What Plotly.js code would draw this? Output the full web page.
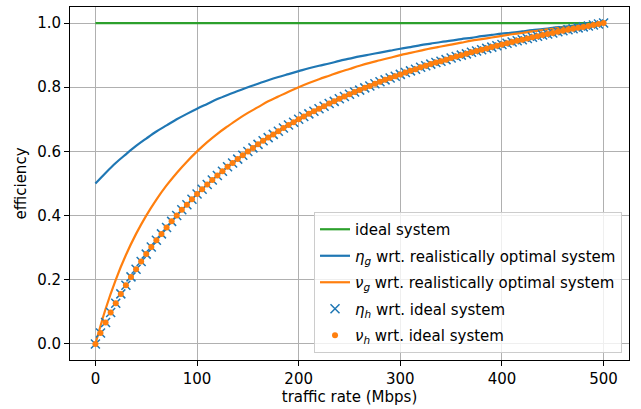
<!DOCTYPE html>
<html>
<head>
<meta charset="utf-8">
<script src="https://cdn.plot.ly/plotly-3.0.1.min.js"></script>
<style>
  html, body { margin: 0; padding: 0; background: #fff; }
  #chart { width: 641px; height: 409px; }
</style>
</head>
<body>
<div id="chart"></div>
<script>
// Traffic rate grid (Mbps) for the smooth curves
const rateLine = [0, 10, 20, 30, 40, 50, 60, 70, 80, 90, 100, 110, 120, 130, 140, 150, 160, 170, 180, 190,
  200, 210, 220, 230, 240, 250, 260, 270, 280, 290, 300, 310, 320, 330, 340, 350, 360, 370, 380, 390,
  400, 410, 420, 430, 440, 450, 460, 470, 480, 490, 500];

// Traffic rate grid (Mbps) for the sampled markers
const rateMarks = [0, 5, 10, 15, 20, 25, 30, 35, 40, 45, 50, 55, 60, 65, 70, 75, 80, 85, 90, 95,
  100, 105, 110, 115, 120, 125, 130, 135, 140, 145, 150, 155, 160, 165, 170, 175, 180, 185, 190, 195,
  200, 205, 210, 215, 220, 225, 230, 235, 240, 245, 250, 255, 260, 265, 270, 275, 280, 285, 290, 295,
  300, 305, 310, 315, 320, 325, 330, 335, 340, 345, 350, 355, 360, 365, 370, 375, 380, 385, 390, 395,
  400, 405, 410, 415, 420, 425, 430, 435, 440, 445, 450, 455, 460, 465, 470, 475, 480, 485, 490, 495, 500];

// Ideal system efficiency
const idealRate = [0, 500];
const idealEff = [1.0, 1.0];

// eta_g with respect to the realistically optimal system
const etaG = [0.5, 0.533, 0.564, 0.591, 0.617, 0.64, 0.662, 0.681, 0.7, 0.717,
  0.733, 0.748, 0.763, 0.776, 0.788, 0.8, 0.811, 0.822, 0.832, 0.841,
  0.85, 0.859, 0.867, 0.874, 0.882, 0.889, 0.896, 0.902, 0.908, 0.914,
  0.92, 0.925, 0.931, 0.936, 0.941, 0.945, 0.95, 0.954, 0.959, 0.963,
  0.967, 0.970, 0.974, 0.978, 0.981, 0.985, 0.988, 0.991, 0.994, 0.997, 1.0];

// nu_g with respect to the realistically optimal system
const nuG = [0, 0.109, 0.2, 0.277, 0.343, 0.4, 0.45, 0.494, 0.533, 0.568,
  0.6, 0.629, 0.655, 0.678, 0.7, 0.72, 0.738, 0.756, 0.771, 0.786,
  0.8, 0.813, 0.825, 0.836, 0.847, 0.857, 0.867, 0.876, 0.884, 0.892,
  0.9, 0.907, 0.914, 0.921, 0.927, 0.933, 0.939, 0.945, 0.95, 0.955,
  0.96, 0.965, 0.969, 0.974, 0.978, 0.982, 0.986, 0.989, 0.993, 0.997, 1.0];

// eta_h with respect to the ideal system
const etaH = [0, 0.034, 0.067, 0.098, 0.127, 0.156, 0.183, 0.209, 0.233, 0.257,
  0.28, 0.302, 0.323, 0.343, 0.363, 0.382, 0.4, 0.418, 0.434, 0.451,
  0.467, 0.482, 0.497, 0.511, 0.525, 0.538, 0.552, 0.564, 0.576, 0.588,
  0.6, 0.611, 0.622, 0.633, 0.643, 0.653, 0.663, 0.673, 0.682, 0.691,
  0.7, 0.709, 0.717, 0.725, 0.733, 0.741, 0.749, 0.756, 0.764, 0.771,
  0.778, 0.785, 0.791, 0.798, 0.804, 0.811, 0.817, 0.823, 0.829, 0.834,
  0.84, 0.846, 0.851, 0.856, 0.862, 0.867, 0.872, 0.877, 0.881, 0.886,
  0.891, 0.896, 0.9, 0.904, 0.909, 0.913, 0.917, 0.921, 0.925, 0.929,
  0.933, 0.937, 0.941, 0.945, 0.948, 0.952, 0.956, 0.959, 0.963, 0.966,
  0.969, 0.973, 0.976, 0.979, 0.982, 0.985, 0.988, 0.991, 0.994, 0.997, 1.0];

// nu_h with respect to the ideal system
const nuH = [0, 0.034, 0.067, 0.098, 0.127, 0.156, 0.183, 0.209, 0.233, 0.257,
  0.28, 0.302, 0.323, 0.343, 0.363, 0.382, 0.4, 0.418, 0.434, 0.451,
  0.467, 0.482, 0.497, 0.511, 0.525, 0.538, 0.552, 0.564, 0.576, 0.588,
  0.6, 0.611, 0.622, 0.633, 0.643, 0.653, 0.663, 0.673, 0.682, 0.691,
  0.7, 0.709, 0.717, 0.725, 0.733, 0.741, 0.749, 0.756, 0.764, 0.771,
  0.778, 0.785, 0.791, 0.798, 0.804, 0.811, 0.817, 0.823, 0.829, 0.834,
  0.84, 0.846, 0.851, 0.856, 0.862, 0.867, 0.872, 0.877, 0.881, 0.886,
  0.891, 0.896, 0.9, 0.904, 0.909, 0.913, 0.917, 0.921, 0.925, 0.929,
  0.933, 0.937, 0.941, 0.945, 0.948, 0.952, 0.956, 0.959, 0.963, 0.966,
  0.969, 0.973, 0.976, 0.979, 0.982, 0.985, 0.988, 0.991, 0.994, 0.997, 1.0];

const xTicks = [0, 100, 200, 300, 400, 500];
const yTicks = [0.0, 0.2, 0.4, 0.6, 0.8, 1.0];

const FONT = 'DejaVu Sans, sans-serif';
const FS = 15;
const BLUE = '#1f77b4', ORANGE = '#ff7f0e', GREEN = '#2ca02c';

const traces = [
  { x: idealRate, y: idealEff, mode: 'lines', name: 'ideal system', legendgroup: 'a',
    line: { color: GREEN, width: 2.2 } },
  { x: rateLine, y: etaG, mode: 'lines', name: '<i>η</i><sub><i>g</i></sub> wrt. realistically optimal system',
    legendgroup: 'b', line: { color: BLUE, width: 2.2, shape: 'spline', smoothing: 1 } },
  { x: rateLine, y: nuG, mode: 'lines', name: '<i>ν</i><sub><i>g</i></sub> wrt. realistically optimal system',
    legendgroup: 'c', line: { color: ORANGE, width: 2.2, shape: 'spline', smoothing: 1 } },
  { x: rateMarks, y: etaH, mode: 'markers', name: '<i>η</i><sub><i>h</i></sub> wrt. ideal system',
    legendgroup: 'd',
    marker: { symbol: 'x-thin', size: 9, color: BLUE, line: { color: BLUE, width: 1.5 } } },
  { x: rateMarks, y: nuH, mode: 'markers', name: '<i>ν</i><sub><i>h</i></sub> wrt. ideal system',
    legendgroup: 'e',
    marker: { symbol: 'circle', size: 6, color: ORANGE, line: { width: 0 } } }
];

const axisCommon = {
  showline: true, mirror: true, linecolor: '#000', linewidth: 1,
  showgrid: true, gridcolor: '#b0b0b0', gridwidth: 1,
  zeroline: false, ticks: 'outside', ticklen: 5, tickwidth: 1, tickcolor: '#000',
  tickfont: { family: FONT, size: FS, color: '#000' }
};

const layout = {
  width: 641, height: 409,
  margin: { l: 70, r: 12, t: 7, b: 49 },
  paper_bgcolor: '#fff', plot_bgcolor: '#fff',
  font: { family: FONT, size: FS, color: '#000' },
  showlegend: true,
  xaxis: Object.assign({}, axisCommon, {
    range: [-25, 525], tickvals: xTicks, ticktext: xTicks.map(String),
    title: { text: 'traffic rate (Mbps)', font: { family: FONT, size: FS, color: '#000' }, standoff: 4 }
  }),
  yaxis: Object.assign({}, axisCommon, {
    range: [-0.05, 1.05], tickvals: yTicks, ticktext: yTicks.map(v => v.toFixed(1)),
    title: { text: 'efficiency', font: { family: FONT, size: FS, color: '#000' }, standoff: 6 }
  }),
  legend: {
    x: 0.9875, y: 0.0198, xanchor: 'right', yanchor: 'bottom',
    bgcolor: 'rgba(255,255,255,0.8)', bordercolor: '#cccccc', borderwidth: 1,
    font: { family: FONT, size: FS, color: '#000' },
    traceorder: 'grouped', tracegroupgap: 4
  }
};

Plotly.newPlot('chart', traces, layout, { displayModeBar: false, staticPlot: true });
</script>
</body>
</html>
